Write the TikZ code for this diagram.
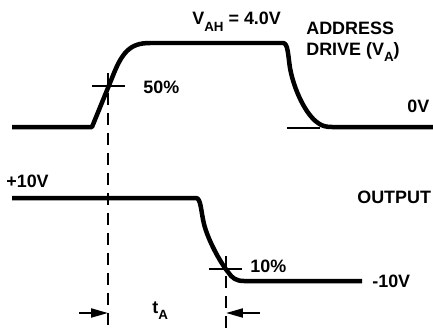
\documentclass[tikz,border=0pt]{standalone}
\usepackage{fontspec}
\setmainfont{Liberation Sans}
\usetikzlibrary{arrows.meta}
\newcommand{\lowsub}[1]{\raisebox{-0.38em}{\fontsize{7.6pt}{9pt}\selectfont #1}}

\begin{document}
\begin{tikzpicture}[x=0.02cm,y=-0.02cm]
    \pgfmathsetmacro{\drivelow}{127}
    \pgfmathsetmacro{\drivehigh}{43}
    \pgfmathsetmacro{\outhigh}{198}
    \pgfmathsetmacro{\outlow}{281}
    \pgfmathsetmacro{\fiftyx}{108}
    \pgfmathsetmacro{\tenx}{226}
    \pgfmathsetmacro{\arrowy}{313}
    \providecommand{\labelfont}{\fontsize{10.2pt}{12pt}\selectfont\bfseries}
    \tikzset{
      wave/.style={line width=0.09cm,line join=round},
      tickline/.style={line width=0.03cm},
      guide/.style={line width=0.045cm,dash pattern=on 0.24cm off 0.16cm},
      timing/.style={line width=0.04cm,-{Triangle[length=0.34cm,width=0.18cm]}},
      lbl/.style={inner sep=0,anchor=base west,font=\labelfont}
    }
    \useasboundingbox (0,0) rectangle (433,328);
    % address drive waveform
    \draw[wave] (12,\drivelow) -- (92,\drivelow) -- (112,78) .. controls (122,52) and (130,\drivehigh) .. (150,\drivehigh) -- (283,\drivehigh) .. controls (288,\drivehigh) and (288,55) .. (290,68) .. controls (294,90) and (306,115) .. (318,123) .. controls (322,126) and (326,\drivelow) .. (332,\drivelow) -- (433,\drivelow);
    % output waveform
    \draw[wave] (12,\outhigh) -- (196,\outhigh) .. controls (201,\outhigh) and (201,212) .. (204,224) .. controls (208,240) and (220,262) .. (228,272) .. controls (232,278) and (236,\outlow) .. (244,\outlow) -- (362,\outlow);
    % marker points
    \coordinate (fiftyL) at (92,86);
    \coordinate (fiftyR) at (125,86);
    \coordinate (tenL) at (209,269);
    \coordinate (tenR) at (242,269);
    \coordinate (lowL) at (287,128);
    \coordinate (lowR) at (320,128);
    \coordinate (fiftytop) at (\fiftyx,73);
    \coordinate (fiftybot) at (\fiftyx,328);
    \coordinate (tentop) at (\tenx,256);
    \coordinate (tenbot) at (\tenx,328);
    \coordinate (startL) at (79,\arrowy);
    \coordinate (endL) at (\fiftyx,\arrowy);
    \coordinate (startR) at (260,\arrowy);
    \coordinate (endR) at (\tenx,\arrowy);
    \draw[tickline] (fiftyL) -- (fiftyR);
    \draw[tickline] (tenL) -- (tenR);
    \draw[tickline] (lowL) -- (lowR);
    \draw[guide] (fiftytop) -- (fiftybot);
    \draw[guide] (tentop) -- (tenbot);
    \draw[timing] (startL) -- (endL);
    \draw[timing] (startR) -- (endR);
    % labels
    \node[lbl] (vah) at (192,25) {V\lowsub{AH} = 4.0V};
    \node[lbl] (address) at (306,34) {ADDRESS};
    \node[lbl] (drive) at (306,55) {DRIVE (V\lowsub{A})};
    \node[lbl] (zero) at (407,112) {0V};
    \node[lbl] (fifty) at (143,93) {50\%};
    \node[lbl] (plusten) at (6,187) {+10V};
    \node[lbl] (output) at (357,203) {OUTPUT};
    \node[lbl] (ten) at (250,272) {10\%};
    \node[lbl] (minusten) at (372,287) {-10V};
    \node[lbl] (ta) at (152,313) {t\lowsub{A}};
\end{tikzpicture}
\end{document}
